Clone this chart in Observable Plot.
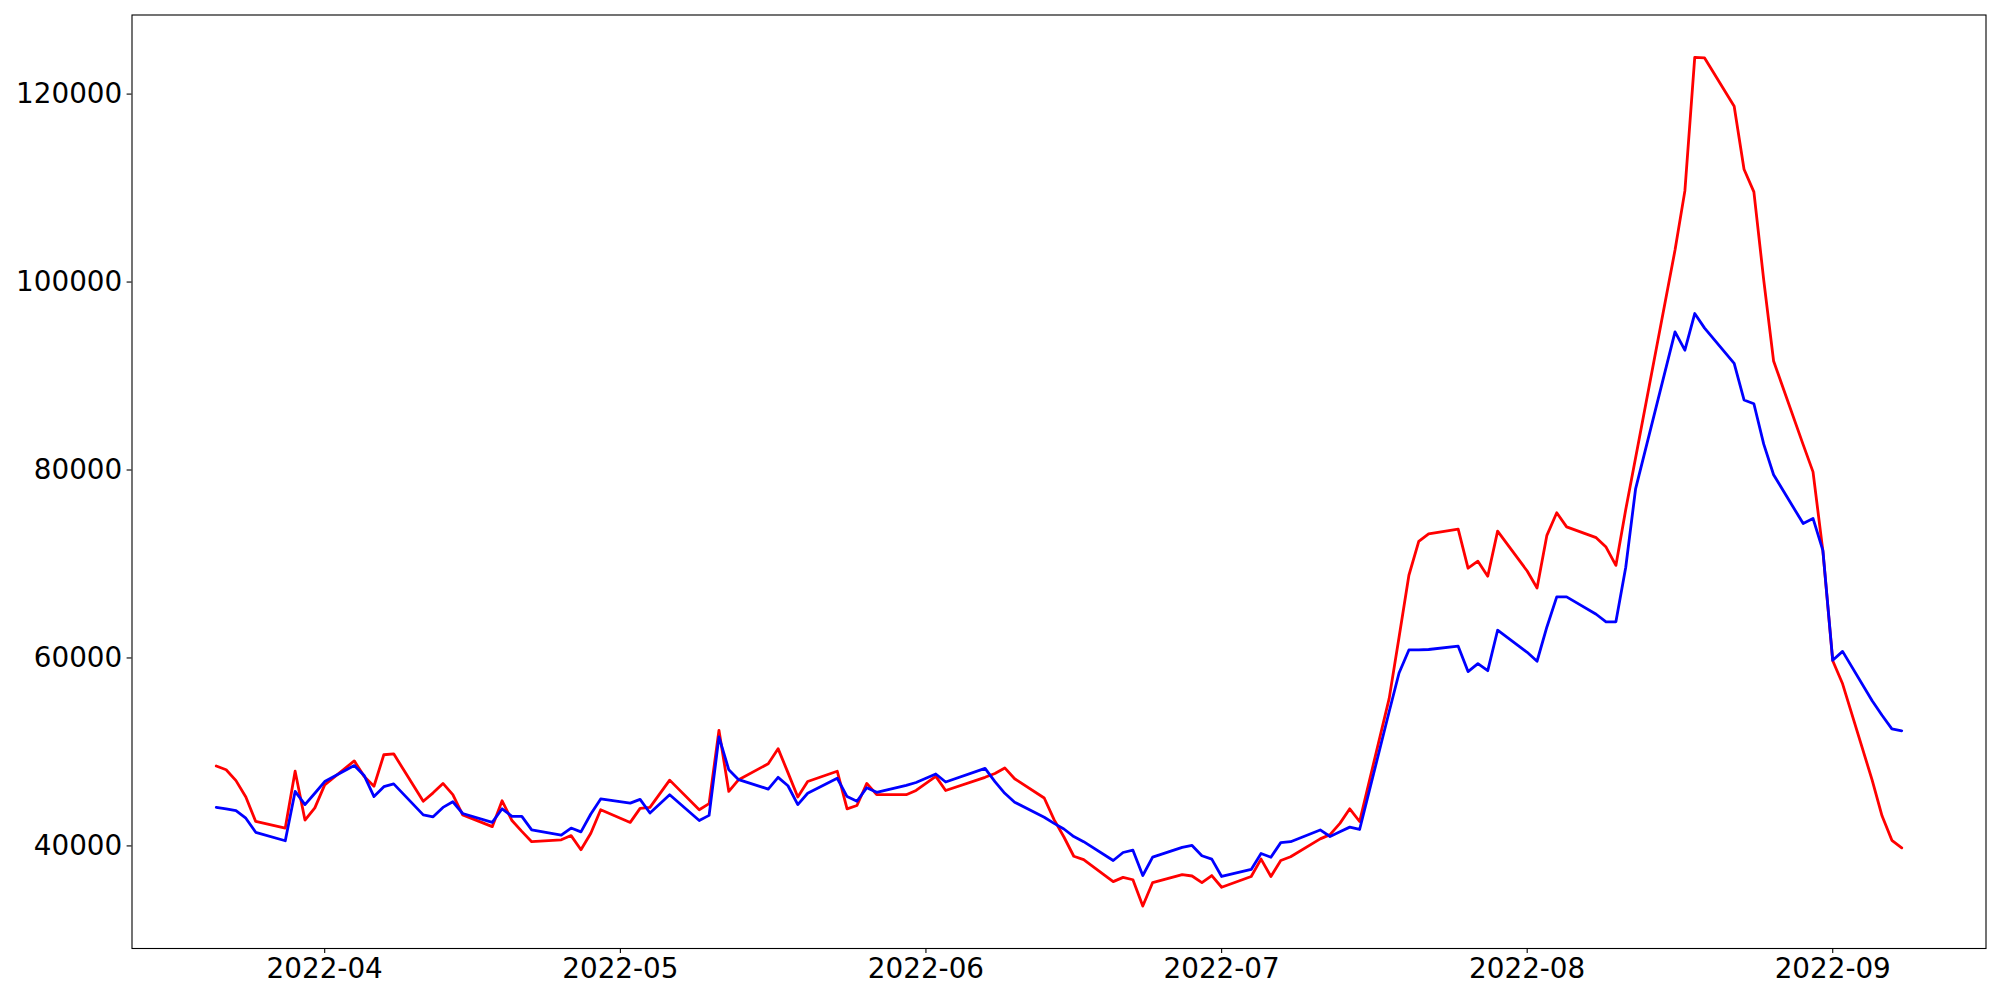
<!DOCTYPE html>
<html>
<head>
<meta charset="utf-8">
<script src="https://cdn.jsdelivr.net/npm/d3@7"></script>
<script src="https://cdn.jsdelivr.net/npm/@observablehq/plot@0.6"></script>
<style>
  html, body { margin: 0; padding: 0; background: #ffffff; }
  #chart { width: 2000px; height: 1000px; }
</style>
</head>
<body>
<div id="chart"></div>
<script>
const dates = [
  "2022-03-21","2022-03-22","2022-03-23","2022-03-24","2022-03-25",
  "2022-03-28","2022-03-29","2022-03-30","2022-03-31","2022-04-01",
  "2022-04-04","2022-04-05","2022-04-06","2022-04-07","2022-04-08",
  "2022-04-11","2022-04-12","2022-04-13","2022-04-14","2022-04-15",
  "2022-04-18","2022-04-19","2022-04-20","2022-04-21","2022-04-22",
  "2022-04-25","2022-04-26","2022-04-27","2022-04-28","2022-04-29",
  "2022-05-02","2022-05-03","2022-05-04","2022-05-06",
  "2022-05-09","2022-05-10","2022-05-11","2022-05-12","2022-05-13",
  "2022-05-16","2022-05-17","2022-05-18","2022-05-19","2022-05-20",
  "2022-05-23","2022-05-24","2022-05-25","2022-05-26","2022-05-27",
  "2022-05-30","2022-05-31","2022-06-02","2022-06-03",
  "2022-06-07","2022-06-08","2022-06-09","2022-06-10",
  "2022-06-13","2022-06-14","2022-06-15","2022-06-16","2022-06-17",
  "2022-06-20","2022-06-21","2022-06-22","2022-06-23","2022-06-24",
  "2022-06-27","2022-06-28","2022-06-29","2022-06-30","2022-07-01",
  "2022-07-04","2022-07-05","2022-07-06","2022-07-07","2022-07-08",
  "2022-07-11","2022-07-12","2022-07-13","2022-07-14","2022-07-15",
  "2022-07-18","2022-07-19","2022-07-20","2022-07-21","2022-07-22",
  "2022-07-25","2022-07-26","2022-07-27","2022-07-28","2022-07-29",
  "2022-08-01","2022-08-02","2022-08-03","2022-08-04","2022-08-05",
  "2022-08-08","2022-08-09","2022-08-10","2022-08-11","2022-08-12",
  "2022-08-16","2022-08-17","2022-08-18","2022-08-19",
  "2022-08-22","2022-08-23","2022-08-24","2022-08-25","2022-08-26",
  "2022-08-29","2022-08-30","2022-08-31","2022-09-01","2022-09-02",
  "2022-09-05","2022-09-06","2022-09-07","2022-09-08"
];

const redValues = [
  48500, 48100, 46950, 45200, 42600,
  41900, 47950, 42750, 44050, 46500,
  49050, 47400, 46350, 49700, 49800,
  44750, 45650, 46650, 45450, 43300,
  42050, 44800, 42700, 41550, 40450,
  40650, 41100, 39600, 41350, 43850,
  42500, 44000, 44100, 47000,
  43850, 44500, 52300, 45800, 47050,
  48750, 50350, 47800, 45200, 46850,
  47950, 43950, 44300, 46650, 45450,
  45450, 45900, 47400, 45900,
  47300, 47700, 48300, 47150,
  45100, 42800, 40950, 38900, 38550,
  36200, 36650, 36400, 33600, 36100,
  36950, 36800, 36100, 36850, 35600,
  36750, 38600, 36750, 38450, 38850,
  40750, 41200, 42400, 43950, 42600,
  55700, 62200, 68800, 72400, 73200,
  73700, 69550, 70300, 68700, 73500,
  69250, 67450, 73050, 75450, 73950,
  72800, 71800, 69850, 75800, 81300,
  103400, 109700, 123900, 123850,
  118700, 112000, 109600, 100200, 91600,
  82700, 79800, 71400, 59700, 57250,
  47000, 43200, 40600, 39800
];

const blueValues = [
  44100, 43950, 43750, 42950, 41450,
  40550, 45800, 44400, 45600, 46850,
  48550, 47500, 45250, 46300, 46600,
  43300, 43100, 44100, 44700, 43450,
  42500, 43950, 43150, 43150, 41700,
  41150, 41900, 41500, 43400, 45000,
  44550, 44950, 43500, 45450,
  42700, 43250, 51600, 48100, 47050,
  46050, 47300, 46400, 44400, 45600,
  47200, 45250, 44750, 46200, 45700,
  46450, 46750, 47650, 46800,
  48250, 46850, 45600, 44650,
  43050, 42400, 41800, 41000, 40450,
  38450, 39300, 39550, 36850, 38800,
  39850, 40050, 38950, 38600, 36750,
  37500, 39200, 38800, 40350, 40450,
  41700, 41000, 41500, 42000, 41750,
  54300, 58400, 60850, 60850, 60900,
  61250, 58550, 59400, 58650, 62950,
  60600, 59650, 63300, 66500, 66500,
  64650, 63850, 63850, 69650, 78000,
  94700, 92750, 96650, 95100,
  91350, 87450, 87050, 82750, 79500,
  74300, 74850, 71450, 59750, 60700,
  55450, 53900, 52450, 52250
];

const xTickLabels = ["2022-04-01","2022-05-01","2022-06-01","2022-07-01","2022-08-01","2022-09-01"];
const yTickValues = [40000, 60000, 80000, 100000, 120000];

const parse = d3.utcParse("%Y-%m-%d");
const data = dates.map((d, i) => ({date: parse(d), red: redValues[i], blue: blueValues[i]}));

// matplotlib-like 5% margins on data extents
const [x0, x1] = d3.extent(data, d => +d.date);
const xPad = (x1 - x0) * 0.05;
const allY = redValues.concat(blueValues);
const [y0, y1] = d3.extent(allY);
const yPad = (y1 - y0) * 0.05;

const chart = Plot.plot({
  width: 2000,
  height: 1000,
  marginLeft: 131.5,
  marginRight: 14.5,
  marginTop: 14.5,
  marginBottom: 52,
  style: {fontFamily: "'DejaVu Sans', sans-serif", fontSize: "27.8px", background: "#ffffff", color: "#000000", overflow: "visible"},
  x: {type: "utc", domain: [new Date(x0 - xPad), new Date(x1 + xPad)]},
  y: {domain: [y0 - yPad, y1 + yPad]},
  marks: [
    Plot.line(data, {x: "date", y: "red", stroke: "#ff0000", strokeWidth: 2.8, strokeLinejoin: "round", curve: "linear"}),
    Plot.line(data, {x: "date", y: "blue", stroke: "#0000ff", strokeWidth: 2.8, strokeLinejoin: "round", curve: "linear"}),
    Plot.frame({stroke: "#000000", strokeWidth: 1.1}),
    Plot.axisX({ticks: xTickLabels.map(parse), tickFormat: d3.utcFormat("%Y-%m"), tickSize: 4.9, tickPadding: 4.9, label: null, fontSize: 27.8, strokeWidth: 1.1}),
    Plot.axisY({ticks: yTickValues, tickFormat: d3.format("d"), tickSize: 4.9, tickPadding: 4.9, label: null, fontSize: 27.8, strokeWidth: 1.1})
  ]
});
document.getElementById("chart").appendChild(chart);
</script>
</body>
</html>
